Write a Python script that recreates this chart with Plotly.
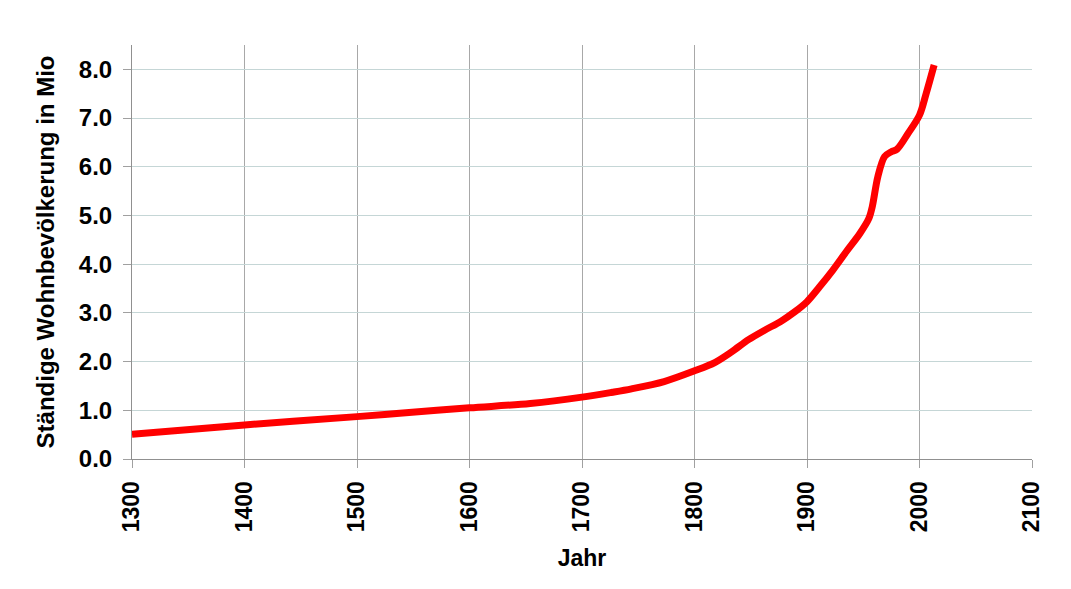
import plotly.graph_objects as go

years = [1300, 1400, 1500, 1538, 1600, 1654, 1700, 1727, 1744, 1773, 1800, 1818, 1833,
         1848, 1862, 1877, 1889, 1900, 1911, 1923, 1935, 1947, 1955, 1958, 1963, 1969, 1975,
         1980, 1990, 2000, 2006, 2013]
population = [0.51, 0.70, 0.87, 0.94, 1.05, 1.14, 1.27, 1.37, 1.44, 1.59, 1.81, 1.98, 2.20,
              2.45, 2.64, 2.83, 3.02, 3.23, 3.53, 3.88, 4.26, 4.63, 4.94, 5.18, 5.80, 6.21, 6.31,
              6.36, 6.69, 7.06, 7.51, 8.09]

x_ticks = [1300, 1400, 1500, 1600, 1700, 1800, 1900, 2000, 2100]
y_ticks = [0, 1, 2, 3, 4, 5, 6, 7, 8]

fig = go.Figure()
fig.add_trace(go.Scatter(
    x=years, y=population, mode="lines",
    line=dict(color="#ff0000", width=7, shape="spline", smoothing=0.9),
    showlegend=False,
))

font_family = "Liberation Sans, Arial, sans-serif"
fig.update_layout(
    width=1063, height=581,
    margin=dict(l=124, r=39, t=37, b=130),
    paper_bgcolor="white", plot_bgcolor="white",
    font=dict(family=font_family, color="black"),
    xaxis=dict(
        range=[1300, 2100], tickvals=x_ticks, ticktext=[str(v) for v in x_ticks],
        tickangle=-90, tickfont=dict(size=23, family=font_family, weight="bold"),
        showgrid=True, gridcolor="#a8a8a8", gridwidth=1,
        ticks="outside", ticklen=8, tickcolor="#a0a0a0",
        ticklabelstandoff=4,
        showline=True, linecolor="#909090", linewidth=1,
        zeroline=False, automargin=False,
        title=dict(text="<b>Jahr</b>", font=dict(size=23), standoff=18),
    ),
    yaxis=dict(
        range=[0, 8.5], tickvals=y_ticks, ticktext=[f"{v:.1f}" for v in y_ticks],
        tickfont=dict(size=24, family=font_family, weight="bold"),
        showgrid=True, gridcolor="#c5d6d6", gridwidth=1,
        ticks="outside", ticklen=8, tickcolor="#a0a0a0",
        ticklabelstandoff=6,
        showline=True, linecolor="#909090", linewidth=1,
        zeroline=False, automargin=False,
        title=dict(text="<b>Ständige Wohnbevölkerung in Mio</b>", font=dict(size=24), standoff=17),
    ),
)

fig.write_html("out.html")
